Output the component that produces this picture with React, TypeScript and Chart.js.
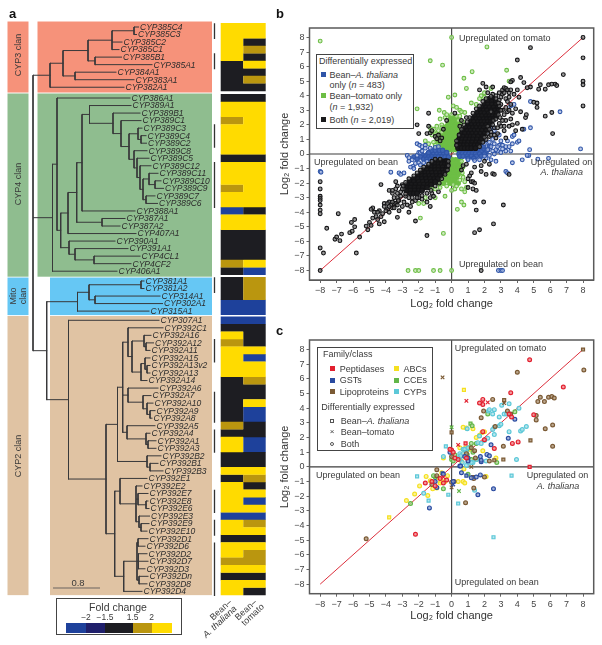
import React, { useEffect, useRef } from "react";
import { Chart, registerables } from "chart.js";
Chart.register(...registerables);

const FONT = '"Liberation Sans", Arial, sans-serif';

// ---------- panel a: leaves per clan ----------
const clan3Leaves = ["CYP385C4","CYP385C3","CYP385C2","CYP385C1","CYP385B1","CYP385A1","CYP384A1","CYP383A1","CYP382A1"];
const clan4Leaves = ["CYP386A1","CYP389A1","CYP389B1","CYP389C1","CYP389C3","CYP389C4","CYP389C2","CYP389C8","CYP389C5","CYP389C12","CYP389C11","CYP389C10","CYP389C9","CYP389C7","CYP389C6","CYP388A1","CYP387A1","CYP387A2","CYP407A1","CYP390A1","CYP391A1","CYP4CL1","CYP4CF2","CYP406A1"];
const mitoLeaves = ["CYP381A1","CYP381A2","CYP314A1","CYP302A1","CYP315A1"];
const clan2Leaves = ["CYP307A1","CYP392C1","CYP392A16","CYP392A12","CYP392A11","CYP392A15","CYP392A13v2","CYP392A13","CYP392A14","CYP392A6","CYP392A7","CYP392A10","CYP392A9","CYP392A8","CYP392A5","CYP392A4","CYP392A1","CYP392A3","CYP392B2","CYP392B1","CYP392B3","CYP392E1","CYP392E2","CYP392E7","CYP392E8","CYP392E6","CYP392E3","CYP392E9","CYP392E10","CYP392D1","CYP392D6","CYP392D2","CYP392D7","CYP392D3","CYP392Dn","CYP392D8","CYP392D4"];

// heat map classes, one letter per leaf (Y>2, G 1.5..2, K -1.5..1.5, B<-2)
const heatArabidopsis3 = "YYYYYKKKK";
const heatTomato3 = "YYKGKYKGK";
const heatArabidopsis4 = "KYYGYYYYKYYYGYYBYYKKKKGK";
const heatTomato4 = "KYYYYYYYKYYYYYYKYYKKKKYB";
const heatArabidopsisMito = "KKKBB";
const heatTomatoMito = "GGGBB";
const heatArabidopsis2 = "BKYGYYYYKKKKKKGKYYKKYKYYYYBYYKYYGYKYY";
const heatTomato2 = "BKKKYBYYGKKYBBKKBBKKYGKYBYBGYKYGGYKYK";

const cladeBars = [["CYP385C4","CYP385C3"],["CYP385B1","CYP385A1"],["CYP389C3","CYP389C2"],["CYP389C12","CYP389C6"],["CYP381A1","CYP381A2"],["CYP392A12","CYP392A15"],["CYP392A7","CYP392A8"],["CYP392A4","CYP392A3"],["CYP392E7","CYP392E6"],["CYP392E9","CYP392E10"],["CYP392D6","CYP392D4"]];

const L = (name: string, tip: number) => ({ name, tip });
const N = (x: number, ...kids: any[]) => ({ x, kids });

const treeClan3 = N(50,
  N(63,
    N(88,
      N(112, N(134, L("CYP385C4",138.5), L("CYP385C3",136.5)), L("CYP385C2",122), L("CYP385C1",119)),
      N(95, L("CYP385B1",121.5), L("CYP385A1",152))),
    N(75, L("CYP384A1",116), L("CYP383A1",134))),
  L("CYP382A1",124));

const treeClan4 = N(52.5,
  N(57,
    L("CYP386A1",130),
    N(60.7,
      N(68,
        N(76.7,
          N(82,
            N(89.5,
              L("CYP389A1",131),
              N(113,
                L("CYP389B1",140),
                N(121,
                  L("CYP389C1",141),
                  N(129,
                    N(138, L("CYP389C3",142), N(141, L("CYP389C4",146), L("CYP389C2",146.5))),
                    N(134,
                      L("CYP389C8",147),
                      N(137,
                        L("CYP389C5",149),
                        N(140,
                          L("CYP389C12",151),
                          N(143,
                            N(149, L("CYP389C11",158), N(155, L("CYP389C10",161), L("CYP389C9",163.5))),
                            N(146, L("CYP389C7",155), L("CYP389C6",157.5))))))))),
              ),
            L("CYP388A1",135)),
          N(102, L("CYP387A1",125), L("CYP387A2",120))),
        L("CYP407A1",136)),
      N(69,
        L("CYP390A1",115),
        N(75, L("CYP391A1",128), N(94, L("CYP4CL1",140), L("CYP4CF2",131)))))),
  L("CYP406A1",117));

const treeMito = N(77.5,
  N(89, N(141, L("CYP381A1",144), L("CYP381A2",144)), N(95, L("CYP314A1",160), L("CYP302A1",162.5))),
  L("CYP315A1",149));

const treeClan2 = N(68.5,
  L("CYP307A1",159),
  N(106,
    N(117.5,
      N(122.7,
        N(128,
          L("CYP392C1",163),
          N(132,
            N(144, L("CYP392A16",151), N(146, L("CYP392A12",153.5), L("CYP392A11",150))),
            N(141, N(145, L("CYP392A15",150), N(147, L("CYP392A13v2",150), L("CYP392A13",150))), L("CYP392A14",147)))),
        N(128, L("CYP392A6",158), N(143, L("CYP392A7",151), N(147, L("CYP392A10",153), N(150, L("CYP392A9",155), L("CYP392A8",152))))),
        N(127, L("CYP392A5",155), N(146, L("CYP392A4",150), N(148, L("CYP392A1",156), L("CYP392A3",156))))),
      N(147, L("CYP392B2",161), N(150, L("CYP392B1",158), L("CYP392B3",163)))),
    N(114.7,
      N(120,
        L("CYP392E1",147),
        N(136,
          L("CYP392E2",142),
          N(138, L("CYP392E7",148), N(146, L("CYP392E8",148), L("CYP392E6",149))),
          N(139, L("CYP392E3",149.5), N(141, L("CYP392E9",149), L("CYP392E10",147))))),
      N(123.7,
        N(137,
          N(138, L("CYP392D1",148), L("CYP392D6",145)),
          N(138.5, L("CYP392D2",147), L("CYP392D7",148), L("CYP392D3",145)),
          N(139, L("CYP392Dn",148), L("CYP392D8",147))),
        L("CYP392D4",142)))));

const speciesTree = N(33, treeClan3, treeClan4, N(46.7, treeMito, treeClan2));

// ---------- panel b ----------
// typed as [y, [x, x, ...]] rows read off the dense clouds
const bothDenseRows: [number, number[]][] = [
  [3.8,[2.3,2.5]],[3.6,[2.2,2.45,2.7]],[3.4,[2.0,2.2,2.45,2.7]],[3.2,[1.85,2.1,2.3,2.55,2.8]],[3.0,[1.7,1.95,2.15,2.4,2.65,2.85]],
  [2.8,[1.55,1.8,2.0,2.25,2.5,2.75]],[2.6,[1.4,1.65,1.85,2.1,2.3,2.5,2.7]],[2.4,[1.25,1.5,1.7,1.95,2.15,2.35,2.55]],[2.2,[1.15,1.35,1.6,1.8,2.0,2.2,2.4]],
  [2.0,[1.0,1.2,1.45,1.65,1.85,2.1,2.3]],[1.8,[0.85,1.1,1.3,1.5,1.75,1.95,2.2]],[1.6,[0.7,0.95,1.15,1.4,1.6,1.85,2.1]],[1.4,[0.6,0.8,1.05,1.25,1.5,1.75,2.0]],
  [1.2,[0.5,0.7,0.95,1.15,1.35,1.6,1.9]],[1.0,[0.45,0.65,0.85,1.1,1.3,1.55,1.8]],[0.8,[0.4,0.6,0.8,1.0,1.25,1.5,1.7]],[0.6,[0.35,0.55,0.75,0.95,1.2,1.4,1.6]],[0.4,[0.4,0.6,0.8,1.0,1.2,1.45]],
  [-0.5,[-1.0,-0.8,-0.6,-0.4,-0.3]],[-0.7,[-1.2,-1.0,-0.8,-0.6,-0.4,-0.25]],[-0.9,[-1.45,-1.2,-1.0,-0.8,-0.55,-0.28]],[-1.1,[-1.7,-1.5,-1.25,-1.0,-0.8,-0.55,-0.35]],
  [-1.3,[-1.85,-1.6,-1.4,-1.2,-0.95,-0.7,-0.5]],[-1.5,[-2.05,-1.8,-1.6,-1.35,-1.15,-0.9,-0.7]],[-1.7,[-2.3,-2.05,-1.8,-1.55,-1.3,-1.05,-0.85]],[-1.9,[-2.55,-2.3,-2.0,-1.75,-1.5,-1.25,-1.0]],
  [-2.1,[-2.7,-2.45,-2.2,-1.95,-1.7,-1.45,-1.25]],[-2.3,[-2.75,-2.5,-2.25,-2.0,-1.75,-1.5]],[-2.5,[-2.75,-2.5,-2.25,-2.0,-1.8]],[-2.7,[-2.5,-2.3,-2.1]],
];
const bothSparse = [[8,8],[-8,-8],[8,6.6],[8,5],[8,4.75],[8,3.3],[4.8,7.3],[4,6.45],[4.2,5.25],[6.8,5.45],[5.9,4.75],[6.1,4.8],[6.3,4.8],[6.4,4.7],[5.3,4.45],[5.4,4.75],[5.7,4.45],[5,3.55],[5.2,3.5],[5.2,3.2],[5.7,2.6],[6.1,2.85],[6.15,1.4],
  [4.8,4.6],[4.4,4.9],[4.6,4.55],[3.7,5.05],[3.6,4.95],[3.1,4.4],[2.5,4.6],[1.9,4.85],[2.1,4.6],[1.7,4.4],[2.9,4.2],[3.2,4.55],[3.3,4.5],[3.4,4.4],[3.5,4.2],[3.6,4.4],[3.8,4.1],[4.1,3.9],[4,4.4],[3.3,3.8],[3.4,3.6],[3.6,3.4],[3.9,3.1],[4.2,2.9],[4.5,2.5],[4.55,2.7],[3.6,2.4],[3.7,2],[4,2.1],[4.3,1.7],[3.9,1.6],[3.2,1.6],[3.3,1.1],[2.8,1.4],[3,1.9],[2.6,1.8],[2.4,2.9],[2.9,2.1],[3.1,4.1],[3.2,4.2],[3,3.9],[2.7,4],[2.2,4.2],[2.5,4.1],[3.5,3.9],[3.3,3.2],[3,3.4],[3.1,3],[2.9,3.7],[2.2,1.9],[2.4,1.5],[2.7,1.1],[2.3,1.2],[2.1,1],
  [2.9,3.3],[2.85,3.5],[2.7,3.8],[2.4,3.95],[2.1,3.8],[1.9,3.6],[1.7,3.3],[1.5,3.1],[1.3,2.8],[1.1,2.5],[0.95,2.2],[0.75,2],[0.6,1.7],[0.45,1.3],[0.3,0.9],[0.3,0.6],[2.5,2],[2.55,2.3],[2.7,2.4],[2.85,2.7],[3,3],[2.95,2.5],[3.2,2.7],[3.3,2.3],[2.3,1.7],[2.2,1.4],[2,1.15],[1.9,0.8],[1.7,0.5],[3.4,2.9],[3.5,3],[3.7,2.8],[2.8,1.8],[3.1,2.3],[2.4,1.3],[2.6,1.3],[3.5,1.9],[3.2,1.9],
  [-8,-6.45],[-7.8,-6.8],[-7.6,-5.1],[-6.9,-4.1],[-6.7,-5.5],[-7.1,-5.85],[-7,-5.7],[-6.8,-5.95],[-6.2,-5.4],[-6.05,-5.3],[-5.9,-5],[-5.9,-4.5],[-6.1,-4.7],[-5.6,-5.7],[-5.8,-6.8],[-5.2,-4.95],[-5.1,-5.2],[-5,-4.7],[-4.9,-4.9],[-4.8,-3.7],[-4.9,-3.8],[-4.7,-4],[-4.6,-4.3],[-4.5,-4.5],[-4.4,-4.8],[-4.3,-4.3],[-4.4,-3.9],[-4.2,-4.1],[-4.1,-4.65],[-4.1,-3.4],[-4.1,-3.6],[-3.9,-3.8],[-3.8,-4],[-3.8,-3.3],[-3.7,-3.5],[-3.6,-3.7],[-3.6,-2.7],[-3.5,-3.4],[-3.4,-3.4],[-3.3,-3],[-3.3,-3.5],[-3.2,-3.9],[-3.3,-4.35],[-3,-3.6],[-2.9,-3.3],[-2.8,-2.9],[-2.7,-3.5],[-2.6,-4],[-2.5,-3.6],[-3.1,-2.6],[-3.3,-2.2],[-3.4,-1.9],[-3.8,-2.5],[-4.3,-2.1],[-3,-2.1],[-2.9,-2.4],[-2.6,-3],[-2.2,-3.2],[-2,-3],[-1.8,-3.1],[-1.5,-3.3],[-1.3,-3.6],[-1.2,-2.7],[-2.4,-3.3],[-3.5,-3],[-3.2,-3.2],[-3.9,-3.4],
  [-0.2,-0.5],[-0.2,-0.8],[-0.25,-1.1],[-0.4,-1.4],[-0.6,-1.7],[-0.75,-2],[-1,-2.2],[-1.25,-2.5],[-1.5,-2.7],[-1.8,-2.85],[-2.1,-3],[-2.4,-3],[-2.8,-2.75],[-3,-2.4],[-2.95,-2.2],[-2.8,-1.95],[-2.6,-1.7],[-2.3,-1.5],[-2.1,-1.3],[-1.9,-1.1],[-1.7,-0.9],[-1.4,-0.7],[-1.2,-0.5],[-1,-0.35],[-0.7,-0.35],[-3.1,-2.9],[-3.25,-3.2],[-3.6,-3.3],[-3.5,-3.7],[-3.8,-3.6],[-4,-3.9],[-4.5,-4],[-4.8,-4.4],[-3.3,-2.7],[-3.4,-2.4],[-3.6,-2.5],[-1.3,-3],[-1.1,-2.9],[-0.8,-2.6],
  [-8,-1.9],[-8,-2.4],[-8,-2.9],[-8,-3.05],[-8,-3.2],[-8,-3.5],[-8,-3.85],[-8,-4.1],
  [1.2,-1.3],[1.1,-1.5],[1,-1.7],[1.2,-1.9],[1.3,-2.4],[1.5,-2.5],[1.4,-3.3],[1.5,-3.85],[1.95,-3.3],[3.15,-3.5],[1.4,-5.4],[1.7,-5.2],[2.55,-4.8],[-1.5,-5.6],[-2.2,-4.6],[1.8,-8],[1.3,-1.9],[1.4,-2],[0.7,-0.8],[1.8,-1.2],[2.1,-1.4],[2.5,-1.35],[2.6,-1.4],[3.5,-1.4],[2,-0.5],[1.8,-0.8],[1.4,-0.9],[2.3,-0.7],[0.6,-1.1],[0.9,-0.7],[1,-2.3],
  [-1.4,2.8],[-2.1,2],[-2,1.4],[-1.5,1.4],[-1.4,1.9],[-1.3,1.45],[-1.2,1.6],[-1,1.2],[-0.9,1.05],[-0.8,1.3],[-0.6,1.1],[-0.5,1.7],[0.2,2.8],[-0.3,2.3],[-0.7,0.9],[0.5,1.9],[0.6,2.3],[0.9,2.5]];
const greenDenseRows: [number, number[]][] = [
  [0.3,[-0.5,-0.3,-0.1,0.1,0.3]],[0.5,[-0.6,-0.4,-0.2,0,0.2,0.35]],[0.7,[-0.7,-0.5,-0.3,-0.1,0.1,0.3]],[0.9,[-0.8,-0.6,-0.4,-0.2,0,0.2,0.35]],[1.1,[-0.9,-0.7,-0.5,-0.3,-0.1,0.1,0.3]],[1.3,[-0.7,-0.5,-0.3,-0.1,0.1,0.3]],[1.5,[-0.5,-0.3,-0.1,0.1,0.35]],[1.7,[-0.4,-0.2,0,0.2,0.4]],[1.9,[-0.3,-0.1,0.1,0.3]],[2.1,[-0.2,0,0.2,0.45]],[2.3,[-0.1,0.1,0.3]],[2.5,[-0.05,0.2]],
  [-0.4,[-0.35,-0.15,0.05,0.25,0.45]],[-0.6,[-0.25,-0.05,0.15,0.35,0.5]],[-0.8,[-0.2,0,0.2,0.4,0.55]],[-1,[-0.2,0,0.2,0.4,0.6]],[-1.2,[-0.3,-0.1,0.1,0.3,0.5]],[-1.4,[-0.4,-0.2,0,0.2,0.4]],[-1.6,[-0.5,-0.3,-0.1,0.1,0.3]],[-1.8,[-0.7,-0.4,-0.2,0,0.2]],[-2,[-0.8,-0.5,-0.1,0.15,0.4]],
];
const greenSparse = [[-8,7.75],[0,8],[2.15,7.35],[-1.3,6.4],[-0.55,6.1],[3.35,5.75],[1.25,5.65],[0.75,5.2],[3.5,5],[0.9,4.5],[0.2,4.05],[-0.2,3.9],[2,4.2],[2,3.9],[1.8,4],[2.4,4.5],[-2.1,3.1],[-0.75,3],[-0.45,2.85],[0.1,3.3],[0.3,3.2],[0.5,3],[0.6,2.9],[0.8,2.85],[1.2,3.5],[1.5,3.4],[1.7,3.8],[-1.3,1.8],[-1.25,1.6],[-1.1,1.7],[-1,1.4],[-1.2,1.3],[-0.9,1.9],[-0.7,2.4],[-0.6,2],[-0.4,2.5],[0.3,2.6],[0.7,2.2],[0.5,2.6],[-1.6,0.9],[-1.4,0.7],[-1.1,0.8],[-2.65,-8],[-2.2,-8],[-2,-8],[-1.1,-8],[-0.7,-8],[0,-8],[-0.5,-5.45],[0.35,-3.8],[0.6,-3.3],[0.75,-3.5],[-1,-3],[-0.4,-2.9],[0,-2.5],[0.2,-2.4],[0.6,-2.4],[0.8,-2.6],[0.9,-2.3],[-1.9,-4.4],[-2,-3.4],[-1.7,-3.4],[-1.6,-3],[-1,-2.4],[-0.7,-2.3],[0.7,-1.6],[0.8,-1.9],[-0.9,-1.9],
  [-0.9,1.4],[-0.8,1.6],[-0.6,1.5],[-0.6,1.8],[-0.3,2.7],[0,2.7],[0.4,2.3],[0.55,1.5],[0.55,2],[-1,0.6],[-0.9,0.4],[-0.7,0.4],[0.6,-0.5],[0.7,-0.9],[0.65,-1.3],[0.5,-1.8],[-0.6,-1.4],[-0.6,-1.8],[-1.2,-2.4],[-0.3,-2.2],[0.1,-2.1],[0.3,-2.2]];
const blueDenseRows: [number, number[]][] = [
  [-0.05,[-1.8,-1.5,-1.3,-1.1,-0.9,-0.7,-0.5,-0.3]],[-0.2,[-2.3,-1.9,-1.6,-1.4,-1.2,-1,-0.8,-0.6,-0.4,-0.2]],[-0.35,[-2.1,-1.7,-1.5,-1.3,-1.1]],[0.1,[-1.4,-1.1,-0.9,-0.7,-0.5,-0.3]],[0.25,[-1.2,-1,-0.75,-0.55]],
  [0.3,[1.5,1.7,1.95,2.2]],[0.15,[0.5,0.7,0.9,1.1,1.3,1.5,1.8,2.1]],[0,[0.45,0.65,0.85,1.05,1.25,1.45,1.7,2]],[-0.15,[0.5,0.7,0.95,1.2,1.5,1.8]],[-0.3,[1,1.35]],[0.55,[1.7,1.95,2.3]],
];
const blueSparse = [[-8,-1.2],[-7.95,-1.25],[6.6,2.9],[4.8,3.6],[4.8,1.8],[7.85,0.35],[4.75,0.3],[5.9,-0.3],[5.25,-0.35],[4.7,-0.1],[4.6,-0.1],[4.3,-0.4],[3.7,-0.6],[3.3,-1.2],[3.4,-1.3],[2.85,-8],[3,-8],[3.1,-8],[-3.7,-1.25],[-3.2,-1.3],[-3.1,-1.4],[-2.9,-1.3],[-2.6,-0.5],[-2.4,-0.4],[-2.35,-0.85],[-2.5,-0.9],[-2.3,-1],[-2.1,-0.1],[-2,0.1],[-1.9,0.1],[-1.8,0.2],[-2.1,0.7],[-1.95,0.6],[-1.8,0.5],[-1.6,0.6],[2,0.9],[2.3,0.8],[2.6,0.7],[2.5,1],[2.9,0.6],[3.1,0.6],[3.3,0.5],[3.5,0.5],[3.7,0.7],[4,0.8],[4.1,0.9],[2.8,0.2],[3,0.1],[3.3,0.2],[2.2,0.3],[2.5,0.2],[2.7,0.3],[2.1,-0.3],[2.4,-0.4],[2.7,-0.5],[1.7,-0.4],[2.2,1.5],[2.5,1.8],[2.6,1.6],[2.9,1.3],[3.7,1.2],[3.8,1.3],[4.4,1.7],[3.6,3.3],[3.8,3.4],[3,0.9],[3.4,0.9],
  [-1.6,0.4],[-1.3,0.4],[-1,0.45],[-0.8,0.5],[-2.7,-0.1],[-2.6,-0.25],[-2.2,-0.65],[-2,-0.6],[-1.9,-0.75],[-1.7,-0.6],[-1.5,-0.5],[0.6,0.35],[0.9,0.35],[1.2,0.35],[1,-0.4],[1.4,-0.45],[2,-0.15],[2.3,-0.1],[2.6,0],[2.4,0.5],[2.8,0.5],[3.1,0.35],[3.6,0.2],[2,0.7],[1.8,0.8]];

// ---------- panel c: [x, y, style] 0 both, 1 bean-A. thaliana, 2 bean-tomato ----------
const peptidases = [[4.75,7.3],[6.8,5.45],[3.6,5.05],[0.9,4.5,2],[1.9,4.6],[1.9,4.25],[1.7,4.35],[2.2,4.4,2],[3.5,3.6],[3.65,3.4],[5,3.55],[0.85,1.6,1],[3.7,1.6],[4.05,1.7],[2.6,1.25],[4.75,0,1],[-2.2,-4.6],[0.4,1.5,2],[2,1.85],[0,1.15],[-0.1,1.2],[0.1,1],[1.9,2.4],[-1.6,-1.1],[-1,-1.3],[-1.2,-1],[-0.7,-0.8],[-0.3,-0.9],[-0.5,-1.1],[0.4,0.5],[0.2,0.6],[-0.5,-0.7,2],[0.9,0.6]];
const gsts = [[3.85,3.25],[3.45,1.95],[2.4,1.5],[2.15,0.85],[2.3,0.75],[1.8,0.35],[1.8,0.45],[1.75,0.7],[1,0.6],[0.8,0.7],[0.5,0.05],[0.55,0.05],[0.6,-0.4],[0.9,-0.6,1],[1.2,-0.75],[1.5,-0.7],[1.75,-0.55],[1.6,-1.9],[2.55,-1.5],[-1.35,-2.8],[-0.9,-1.4],[-1,-1],[-0.55,-0.45,1],[-0.5,-0.5],[-0.1,1],[0.1,-1],[0.1,-1.2,2],[1,0.4]];
const lipoproteins = [[8,8,1],[8.05,6.6],[-0.55,6.1,2],[4,6.45],[2.5,4.6],[3.2,4.55,1],[3.2,4.35,2],[1.95,3.8],[1.8,3.35],[3.4,3.8],[5.4,4.75],[5.9,4.75],[6.1,4.8],[6.25,4.7],[5.25,4.45],[5.65,4.45],[5.15,3.5],[5.15,3.2],[5.7,2.6],[6.15,2.85],[4.8,1.8,1],[6.15,1.4],[3.15,1.4],[3.15,0.5,1],[0,2.35,1],[2.65,2.75],[2.6,0.45,1],[2.3,0.4],[1.45,0.6],[1.4,1.1],[1.2,1.3],[0.85,-2.45],[1.35,-1.45],[1.3,-0.7,1],[1.35,-0.8],[2,-0.7],[1.2,0,2],[-5.2,-4.9],[-1.2,-1.2],[-0.9,-0.2],[-0.9,-0.6],[0.15,-1],[0,-1.4,2],[0,-1.05],[3.6,3.6],[0.9,0.9],[0,0.7]];
const abcs = [[0.75,5.25,1],[-3.8,-3.45,1],[-2.75,-2.3],[-2.25,-1.85],[-1.95,-1.3],[-1.55,-0.65],[-1.45,-1.95],[-1.3,-0.95],[-1.2,-1],[-1.15,-1.5],[-0.9,-1.45],[-0.8,-0.75],[-0.6,-0.4],[-0.4,-1],[-0.25,-0.6],[-0.7,-1.1],[-0.6,-1],[0.4,-1],[0.7,-1],[0.8,-1.1],[2.1,-0.65],[0.75,-0.15],[0.7,2.7],[0.9,2.65],[1.3,2.6],[1.5,2],[1.7,2.15],[1.85,2.35],[2,2.4],[0.5,1.3],[1.9,1.1],[0.9,1.1],[1.1,1.2],[0.7,0.9],[0.6,0.8],[-0.5,0.6],[2.7,0.6],[0.6,0.4],[1,1.25],[0.85,1.3]];
const cces = [[0,2.7,2],[1.15,2.95,1],[1.25,2.8],[2.2,3.6],[3.85,3.75],[1.2,1.6],[1.5,1.6],[1.1,1.3],[1.3,1],[0.8,1.2],[0.9,1.15],[2.75,0.3],[1.5,0.5],[1.2,0.5],[0.95,0.85],[0.2,0.8],[0,0.5],[0.1,0.4],[1,-0.5],[0.45,-1.65,2],[-0.5,-1.5],[-1,-0.7],[-2.5,-2.5],[-1.1,-0.6]];
const cyps = [[3.65,-0.6,1],[2.55,-4.8,1],[0.4,-2.5,1],[-2.1,-0.65,1],[-1.7,-1.8],[-1.4,-2.3,1],[-0.2,-1.9,1],[1.4,-1.6],[-0.35,1.4,1],[0.95,2.6],[-0.5,0.7],[0.5,0.5],[3.95,0.5],[2.2,1.95],[2.6,2.2],[1.7,2.1],[2.6,2.7],[2.9,2.8],[3,2.9],[2.9,3.4],[3.2,3.6],[3.35,3.6],[2.25,3.8],[2.6,3.9],[2.5,3.6],[2.3,3.9],[3.05,4.2],[3.5,4.3],[4.1,4],[3.5,2.4],[4.2,2.45],[4.3,2.55],[4.55,2.75],[2.5,2.55],[0.5,0.9],[0.7,1.2],[0.8,1.2],[1,1.3],[0.7,0.9],[0.9,1],[1.3,0.3],[1.5,0.5],[1.8,1.6],[2,1.8],[1.6,1.65],[0.55,0.75],[0.4,0.6],[1.2,0.3],[1,0.3],[2.1,0.4],[0.9,0.1],[0.65,0.3]];

const axisTicks = [-8,-7,-6,-5,-4,-3,-2,-1,0,1,2,3,4,5,6,7,8];
const heatColors: any = { Y: "#FFDB00", G: "#BA960F", K: "#1D1D22", B: "#1E419B" };
const fromRows = (rows: [number, number[]][]) => rows.flatMap(([y, xs]) => xs.map((x) => ({ x, y })));
const pts = (a: number[][]) => a.map((p) => ({ x: p[0], y: p[1] }));

function T({ x, y, children, size = 9, rot = 0, center = false, italic = false, bold = false, color = "#3a3a3a" }: any) {
  return (
    <div style={{ position: "absolute", left: x, top: y, transform: `translate(${center ? "-50%" : "0"},-50%) rotate(${rot}deg)`, whiteSpace: "nowrap", fontFamily: FONT, fontSize: size, lineHeight: 1, color, fontStyle: italic ? "italic" : "normal", fontWeight: bold ? 700 : 400 }}>
      {children}
    </div>
  );
}
const Box = ({ x, y, w, h, bg, border }: any) => (
  <div style={{ position: "absolute", left: x, top: y, width: w, height: h, background: bg, border, boxSizing: "border-box" }} />
);

function useChart(make: (c: HTMLCanvasElement) => Chart) {
  const ref = useRef<HTMLCanvasElement>(null);
  useEffect(() => {
    const ch = make(ref.current!);
    return () => ch.destroy();
  }, []);
  return ref;
}

function makeTree(canvas: HTMLCanvasElement) {
  const rowOf: Record<string, number> = {};
  const groups: [string[], number, string, string, number, number, number][] = [
    [clan3Leaves, 0, heatArabidopsis3, heatTomato3, 0.73, 0.7, 0],
    [clan4Leaves, 9.43, heatArabidopsis4, heatTomato4, 0.6, 0.73, 1],
    [mitoLeaves, 33.73, heatArabidopsisMito, heatTomatoMito, 0.46, 0.53, 2],
    [clan2Leaves, 38.95, heatArabidopsis2, heatTomato2, 0.57, 0.5, 3],
  ];
  const heat: any = { Y: [], G: [], K: [], B: [] };
  const gap = { x: NaN, y: NaN };
  groups.forEach(([names, base, a, b]) => {
    names.forEach((n, i) => {
      const r = base + i;
      rowOf[n] = r;
      heat[a[i]].push({ x: 220.7, y: r }, { x: 243.2, y: r }, gap);
      heat[b[i]].push({ x: 243.2, y: r }, { x: 265.7, y: r }, gap);
    });
  });
  const seg: any[] = [];
  const labels: { name: string; tip: number; row: number }[] = [];
  const walk = (node: any, parentX: number | null): number => {
    if (node.name) {
      const y = rowOf[node.name];
      seg.push({ x: parentX, y }, { x: node.tip, y }, gap);
      labels.push({ name: node.name, tip: node.tip, row: y });
      return y;
    }
    const ys = node.kids.map((k: any) => walk(k, node.x));
    const y = (ys[0] + ys[ys.length - 1]) / 2;
    seg.push({ x: node.x, y: ys[0] }, { x: node.x, y: ys[ys.length - 1] }, gap);
    if (parentX !== null) seg.push({ x: parentX, y }, { x: node.x, y }, gap);
    return y;
  };
  walk(speciesTree, null);
  const bars: any[] = [];
  cladeBars.forEach(([a, b]) => bars.push({ x: 214.5, y: rowOf[a] - 0.5 }, { x: 214.5, y: rowOf[b] + 0.6 }, gap));
  const bandStyle = [
    { fill: "#F6927A", left: 37.5 },
    { fill: "#8FBD8F", left: 37.5 },
    { fill: "#66C7F4", left: 50 },
    { fill: "#E0C3A3", left: 50 },
  ];
  const line = (data: any[], color: string, width: number, cap = "butt") => ({ type: "scatter", data, showLine: true, pointRadius: 0, borderColor: color, borderWidth: width, borderCapStyle: cap, spanGaps: false, order: 1 });
  const bandsPlugin = {
    id: "bands",
    beforeDatasetsDraw(c: any) {
      const { ctx, scales: { x, y } } = c;
      groups.forEach(([names, base, , , up, dn, k]) => {
        const top = y.getPixelForValue(base - up);
        const bottom = y.getPixelForValue(base + names.length - 1 + dn);
        ctx.fillStyle = bandStyle[k].fill;
        ctx.fillRect(x.getPixelForValue(7.5), top, 21, bottom - top);
        const l = x.getPixelForValue(bandStyle[k].left);
        ctx.fillRect(l, top, x.getPixelForValue(212) - l, bottom - top);
      });
    },
    afterDatasetsDraw(c: any) {
      const { ctx, scales: { x, y } } = c;
      ctx.save();
      ctx.font = `italic 8.5px ${FONT}`;
      ctx.fillStyle = "#2c2c2c";
      ctx.textBaseline = "middle";
      labels.forEach((l) => ctx.fillText(l.name, x.getPixelForValue(l.tip + 1.5), y.getPixelForValue(l.row) + 0.5));
      ctx.restore();
    },
  };
  return new Chart(canvas, {
    type: "scatter",
    data: {
      datasets: [
        line(seg, "#38383a", 1, "square"),
        line(bars, "#333", 1.3),
        line([{ x: 53, y: 74.5 }, { x: 100, y: 74.5 }], "#6b6560", 1.2),
        ...Object.keys(heat).map((k) => ({ ...line(heat[k], heatColors[k], 7.8), order: 2 })),
      ] as any,
    },
    options: {
      animation: false,
      responsive: false,
      layout: { padding: 0 },
      plugins: { legend: { display: false }, tooltip: { enabled: false } },
      scales: {
        x: { type: "linear", display: false, min: 0, max: 280 },
        y: { type: "linear", display: false, reverse: true, min: -27 / 7.53, max: 618 / 7.53 },
      },
    } as any,
    plugins: [bandsPlugin],
  });
}

function makeScatter(canvas: HTMLCanvasElement, topPad: number, xAxisHeight: number, markers: any[]) {
  const framePlugin = {
    id: "frame",
    afterDatasetsDraw(c: any) {
      const { ctx, chartArea: a } = c;
      ctx.save();
      ctx.strokeStyle = "#5a5a5a";
      ctx.lineWidth = 1.5;
      ctx.strokeRect(a.left, a.top, a.right - a.left, a.bottom - a.top);
      ctx.restore();
    },
  };
  const makeAxis = (isX: boolean): any => ({
    type: "linear",
    min: -8.65,
    max: 8.65,
    afterBuildTicks: (s: any) => { s.ticks = axisTicks.map((value) => ({ value })); },
    afterFit: (s: any) => { if (isX) s.height = xAxisHeight; else s.width = 31.5; },
    ticks: { autoSkip: false, maxRotation: 0, padding: 2, color: "#444", font: { family: FONT, size: 9 }, callback: (v: number) => (v < 0 ? "\u2212" + Math.abs(v) : String(v)) },
    grid: { drawOnChartArea: false, tickLength: 3, color: "#666" },
    border: { color: "#5a5a5a", width: 1 },
    title: { display: true, text: "Log\u2082 fold change", color: "#333", padding: 0, font: { family: FONT, size: 11 } },
  });
  const guide = (data: any[], color: string, width: number) => ({ type: "scatter", data, showLine: true, pointRadius: 0, borderColor: color, borderWidth: width, order: 20 });
  return new Chart(canvas, {
    type: "scatter",
    data: {
      datasets: [
        guide([{ x: -8.65, y: 0 }, { x: 8.65, y: 0 }], "#3c3c3c", 1.2),
        guide([{ x: 0, y: -8.65 }, { x: 0, y: 8.65 }], "#4a4a4a", 1.2),
        { ...guide([{ x: -8, y: -8 }, { x: 8, y: 8 }], "#DC2F3C", 1), order: 15 },
        ...markers,
      ] as any,
    },
    options: {
      animation: false,
      responsive: false,
      layout: { padding: { top: topPad, right: 8.3, bottom: 0, left: 0 } },
      plugins: { legend: { display: false }, tooltip: { enabled: false } },
      scales: { x: makeAxis(true), y: makeAxis(false) },
    } as any,
    plugins: [framePlugin],
  });
}

const ring = (data: any[], color: string, fill: string, order: number, r = 1.9) => ({ data, borderColor: color, backgroundColor: fill, borderWidth: 1.1, pointRadius: r, order });
const bMarkers = [
  ring(fromRows(greenDenseRows), "#6DBE45", "#6DBE45", 9, 2.2),
  ring(pts(greenSparse), "#6DBE45", "rgba(190,225,170,0.75)", 8),
  ring(fromRows(blueDenseRows), "#2F55A8", "#3F64B4", 7, 2.2),
  ring(pts(blueSparse), "#2F55A8", "rgba(170,185,225,0.75)", 6),
  ring(fromRows(bothDenseRows), "#141416", "#1A1A1C", 5, 2.4),
  ring(pts(bothSparse), "#141416", "rgba(110,110,110,0.7)", 4),
];
const styled = (a: number[][], color: string, fill: string, order: number) => ({
  data: pts(a), borderColor: color, backgroundColor: fill, borderWidth: 1.2, order,
  pointRadius: a.map((p) => (p[2] === 1 ? 2.1 : p[2] === 2 ? 2.5 : 1.9)),
  pointStyle: a.map((p) => ["circle", "rect", "crossRot"][p[2] || 0]),
});
const cMarkers = [
  styled(abcs, "#F5E020", "rgba(250,240,130,0.8)", 8),
  styled(cces, "#62B648", "rgba(170,215,150,0.8)", 7),
  styled(cyps, "#5CC8D8", "rgba(170,225,235,0.8)", 6),
  styled(lipoproteins, "#7B5A34", "rgba(170,145,115,0.8)", 5),
  styled(gsts, "#2A4BA0", "rgba(140,160,210,0.8)", 4),
  styled(peptidases, "#E2202F", "rgba(240,130,135,0.8)", 3),
];

const Swatch = ({ x, y, c }: any) => <Box x={x - 2.5} y={y - 2.5} w={5} h={5} bg={c} />;

export default function App() {
  const a = useChart(makeTree);
  const b = useChart((c) => makeScatter(c, 28, 31, bMarkers));
  const c = useChart((cv) => makeScatter(cv, 20, 29.3, cMarkers));
  const boxLine = "1.2px solid #444";
  return (
    <div style={{ position: "fixed", left: 0, top: 0, width: 602, height: 645, background: "#fff", overflow: "hidden", filter: "blur(0.3px)" }}>
      <canvas ref={a} width={280} height={645} style={{ position: "absolute", left: 0, top: 0 }} />
      <canvas ref={b} width={324} height={311} style={{ position: "absolute", left: 278, top: 0 }} />
      <canvas ref={c} width={324} height={303} style={{ position: "absolute", left: 278, top: 320 }} />

      <T x={9} y={13} size={13} bold color="#111">a</T>
      <T x={276} y={13} size={13} bold color="#111">b</T>
      <T x={276} y={330} size={13} bold color="#111">c</T>

      <T x={18} y={55} rot={-90} center size={9}>CYP3 clan</T>
      <T x={18} y={184} rot={-90} center size={9}>CYP4 clan</T>
      <T x={13} y={296} rot={-90} center size={9}>Mito</T>
      <T x={22.5} y={296} rot={-90} center size={9}>clan</T>
      <T x={18} y={456} rot={-90} center size={9}>CYP2 clan</T>
      <T x={78} y={583} center size={9.5}>0.8</T>

      <Box x={55.5} y={598} w={126} h={37} bg="#fff" border={boxLine} />
      <T x={118} y={606.5} center size={10.5}>Fold change</T>
      <T x={86} y={617} center size={8.5}>{"\u2212"}2</T>
      <T x={105} y={617} center size={8.5}>{"\u2212"}1.5</T>
      <T x={132.7} y={617} center size={8.5}>1.5</T>
      <T x={151.5} y={617} center size={8.5}>2</T>
      <Box x={66} y={623} w={20} h={10} bg="#1E419B" />
      <Box x={86} y={623} w={19} h={10} bg="#1F1F6B" />
      <Box x={105} y={623} w={27.7} h={10} bg="#1D1D22" />
      <Box x={132.7} y={623} w={19.3} h={10} bg="#BA960F" />
      <Box x={152} y={623} w={20} h={10} bg="#FFDB00" />

      <T x={221} y={609.5} center rot={-43} size={9}>Bean{"\u2013"}</T>
      <T x={219.7} y={621.5} center rot={-43} size={9} italic>A. thaliana</T>
      <T x={245.5} y={609.5} center rot={-43} size={9}>Bean{"\u2013"}</T>
      <T x={252.5} y={615} center rot={-43} size={9}>tomato</T>

      {/* panel b */}
      <Box x={315.7} y={54.3} w={98.6} h={74.7} bg="#fff" border={boxLine} />
      <T x={319} y={61.3}>Differentially expressed</T>
      <Swatch x={323} y={74.5} c="#2F55A8" />
      <T x={329.5} y={74.5}>Bean{"\u2013"}<i>A. thaliana</i></T>
      <T x={329.5} y={84.7}>only (<i>n</i> = 483)</T>
      <Swatch x={323} y={95.5} c="#6DBE45" />
      <T x={329.5} y={95.7}>Bean{"\u2013"}tomato only</T>
      <T x={329.5} y={106.7}>(<i>n</i> = 1,932)</T>
      <Swatch x={323} y={119.7} c="#1A1A1C" />
      <T x={329.5} y={119.7}>Both (<i>n</i> = 2,019)</T>
      <T x={459} y={37.5}>Upregulated on tomato</T>
      <T x={314} y={161.7}>Upregulated on bean</T>
      <T x={530.7} y={161.7}>Upregulated on</T>
      <T x={561.7} y={172} center italic>A. thaliana</T>
      <T x={459} y={264}>Upregulated on bean</T>

      {/* panel c */}
      <Box x={317.3} y={346.7} w={116} h={104.3} bg="#fff" border={boxLine} />
      <T x={323} y={354.3}>Family/class</T>
      <Swatch x={332} y={368.7} c="#E2202F" />
      <T x={339.7} y={368.7}>Peptidases</T>
      <Swatch x={332} y={380} c="#2A4BA0" />
      <T x={339.7} y={380}>GSTs</T>
      <Swatch x={332} y={391.7} c="#7B5A34" />
      <T x={339.7} y={391.7}>Lipoproteins</T>
      <Swatch x={396.5} y={368.7} c="#F5E020" />
      <T x={403.5} y={368.7}>ABCs</T>
      <Swatch x={396.5} y={380} c="#62B648" />
      <T x={403.5} y={380}>CCEs</T>
      <Swatch x={396.5} y={391.7} c="#5CC8D8" />
      <T x={403.5} y={391.7}>CYPs</T>
      <T x={321.3} y={407.3}>Differentially expressed</T>
      <Box x={330} y={418.7} w={4} h={4} border="1px solid #555" />
      <T x={340.7} y={420.7}>Bean{"\u2013"}<i>A. thaliana</i></T>
      <T x={329.7} y={432.3} size={8}>{"\u00d7"}</T>
      <T x={340.7} y={432.3}>Bean{"\u2013"}tomato</T>
      <div style={{ position: "absolute", left: 330, top: 441.7, width: 4, height: 4, border: "1px solid #555", borderRadius: "50%", boxSizing: "border-box" }} />
      <T x={340.7} y={443.7}>Both</T>
      <T x={454.7} y={347.7}>Upregulated on tomato</T>
      <T x={316} y={475}>Upregulated on bean</T>
      <T x={526.7} y={475}>Upregulated on</T>
      <T x={558} y={486} center italic>A. thaliana</T>
      <T x={454.7} y={582}>Upregulated on bean</T>
    </div>
  );
}
